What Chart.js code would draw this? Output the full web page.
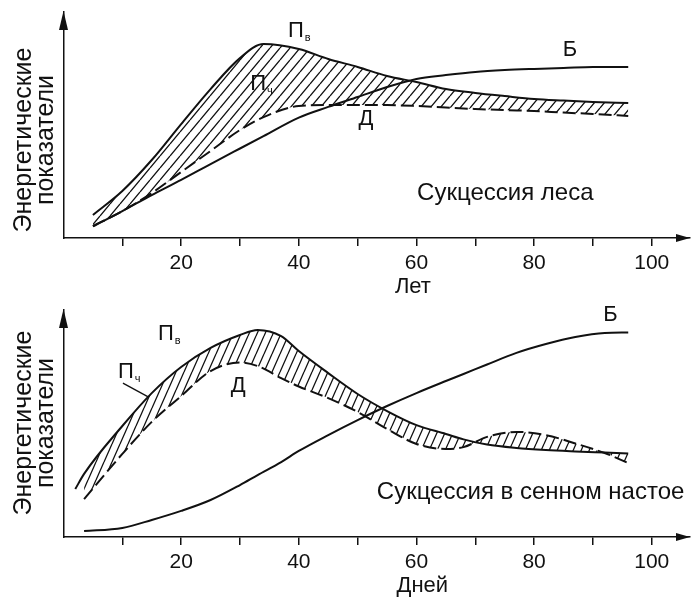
<!DOCTYPE html>
<html>
<head>
<meta charset="utf-8">
<script src="https://cdn.jsdelivr.net/npm/chart.js@4.4.1/dist/chart.umd.min.js"></script>
<style>
  html, body { margin: 0; padding: 0; background: #fff; }
  #wrap { position: relative; width: 691px; height: 601px; }
  canvas { position: absolute; left: 0; }
  #forest { top: 0; }
  #hay { top: 300px; }
</style>
</head>
<body>
<div id="wrap">
  <canvas id="forest" width="691" height="300"></canvas>
  <canvas id="hay" width="691" height="301"></canvas>
</div>
<script>
// ===================
// Data
// ===================

// forest succession, years
const forestYears   = [5, 10, 15, 20, 25, 30, 34, 40, 45, 50, 55, 60, 65, 70, 75, 80, 85, 90, 96];
const forestGross   = [10.2, 20.8, 34.5, 50.4, 65.9, 79.6, 85.8, 83.6, 79.2, 75.7, 71.7, 69.0, 65.9, 64.2, 62.8, 61.5, 60.8, 60.2, 59.7];
const forestResp    = [5.3, 11.9, 19.9, 29.2, 38.5, 47.8, 53.5, 58.4, 58.8, 58.8, 58.8, 58.4, 57.7, 57.1, 56.6, 56.2, 55.5, 54.9, 54.0];
const forestBiomass = [5.1, 11.9, 19.0, 25.7, 32.7, 39.6, 45.1, 53.3, 58.0, 62.4, 66.8, 70.4, 72.1, 73.5, 74.3, 74.8, 75.2, 75.7, 75.7];

// hay infusion succession, days
const hayDays    = [2, 3.5, 10, 15, 20, 25, 30, 33, 37, 40, 45, 50, 55, 60, 65, 68, 72, 77, 82, 87, 92, 96];
const hayGross   = [21.1, 27.8, 48.9, 63.4, 74.9, 83.3, 89.0, 91.2, 88.5, 81.9, 72.2, 63.0, 55.5, 49.3, 45.4, 43.0, 40.7, 39.2, 38.3, 37.7, 37.2, 36.8];
const hayResp    = [null, 16.7, 36.6, 50.7, 62.1, 73.1, 76.9, 75.3, 70.0, 66.3, 61.2, 55.1, 47.6, 41.0, 38.8, 39.6, 44.1, 46.3, 44.9, 41.2, 37.0, 32.6];
const hayBiomass = [null, 2.6, 4.0, 7.5, 11.5, 16.3, 22.9, 27.3, 33.0, 37.9, 44.9, 51.5, 57.7, 63.4, 68.7, 71.8, 76.0, 81.1, 85.0, 88.1, 89.9, 90.1];

const labeledTicks = [20, 40, 60, 80, 100];

const FONT = '"Liberation Sans", Arial, sans-serif';
const INK = '#111';

function points(xs, ys) {
	return xs.map((x, i) => ({ x: x, y: ys[i] }));
}

// diagonal hatching tile, one "/" line per tile
function hatch(ctx, w, h) {
	const c = document.createElement('canvas');
	c.width = w; c.height = h;
	const g = c.getContext('2d');
	g.strokeStyle = INK;
	g.lineWidth = 1.3;
	g.beginPath();
	for (const dx of [-w, 0, w]) {
		g.moveTo(dx, h);
		g.lineTo(dx + w, 0);
	}
	g.stroke();
	return ctx.createPattern(c, 'repeat');
}

function curveLabel(ctx, px, py, main, sub) {
	ctx.font = '22px ' + FONT;
	ctx.textAlign = 'center';
	ctx.textBaseline = 'middle';
	ctx.fillText(main, px, py);
	if (sub) {
		const w = ctx.measureText(main).width;
		ctx.font = '11px ' + FONT;
		ctx.textAlign = 'left';
		ctx.fillText(sub, px + w / 2 + 1, py + 7);
	}
}

// axis arrows, rotated axis title and curve names
const panelDecor = {
	id: 'panelDecor',
	afterDraw(chart, args, opts) {
		const { ctx, chartArea: a, scales: { x, y } } = chart;
		ctx.save();
		ctx.fillStyle = INK;
		ctx.strokeStyle = INK;

		ctx.beginPath();
		ctx.moveTo(a.left, a.top - 1);
		ctx.lineTo(a.left - 4.5, a.top + 18);
		ctx.lineTo(a.left + 4.5, a.top + 18);
		ctx.closePath();
		ctx.fill();

		ctx.beginPath();
		ctx.moveTo(a.right, a.bottom);
		ctx.lineTo(a.right - 14, a.bottom - 4);
		ctx.lineTo(a.right - 14, a.bottom + 4);
		ctx.closePath();
		ctx.fill();

		ctx.save();
		ctx.translate(24, opts.titleY);
		ctx.rotate(-Math.PI / 2);
		ctx.font = '25px ' + FONT;
		ctx.textAlign = 'center';
		ctx.textBaseline = 'middle';
		ctx.fillText('Энергетические', 0, 0);
		ctx.fillText('показатели', 0, 22);
		ctx.restore();

		ctx.font = '22px ' + FONT;
		ctx.textAlign = 'center';
		ctx.textBaseline = 'middle';
		ctx.fillText(opts.unit, x.getPixelForValue(opts.unitX), opts.unitY);

		for (const l of opts.labels) {
			curveLabel(ctx, x.getPixelForValue(l.x), y.getPixelForValue(l.y), l.text, l.sub);
		}

		ctx.font = '24px ' + FONT;
		ctx.textAlign = 'center';
		ctx.fillText(opts.caption.text, x.getPixelForValue(opts.caption.x), y.getPixelForValue(opts.caption.y));

		if (opts.leader) {
			const [p, q] = opts.leader;
			ctx.lineWidth = 1.3;
			ctx.beginPath();
			ctx.moveTo(x.getPixelForValue(p[0]), y.getPixelForValue(p[1]));
			ctx.lineTo(x.getPixelForValue(q[0]), y.getPixelForValue(q[1]));
			ctx.stroke();
		}
		ctx.restore();
	}
};

function makePanel(id, xs, gross, resp, biomass, padTop, axisHeight, pattern, decor) {
	const ctx = document.getElementById(id).getContext('2d');
	const line = { borderColor: INK, borderWidth: 2, pointRadius: 0, cubicInterpolationMode: 'monotone' };
	return new Chart(ctx, {
		type: 'line',
		data: {
			datasets: [
				Object.assign({ data: points(xs, gross), fill: 1, backgroundColor: pattern }, line),
				Object.assign({ data: points(xs, resp), fill: false, borderDash: [13, 5] }, line),
				Object.assign({ data: points(xs, biomass), fill: false }, line)
			]
		},
		options: {
			responsive: false,
			animation: false,
			events: [],
			layout: { padding: { top: padTop, right: 1, left: 0, bottom: 0 } },
			plugins: { legend: { display: false }, tooltip: { enabled: false }, panelDecor: decor },
			scales: {
				x: {
					type: 'linear',
					min: 0,
					max: 106.5,
					afterFit: s => { s.height = axisHeight; },
					afterBuildTicks: s => { s.ticks = s.ticks.filter(t => t.value > 0 && t.value <= 100); },
					grid: { display: true, drawOnChartArea: false, drawTicks: true, tickLength: 8, color: INK, lineWidth: 1.5 },
					border: { display: true, color: INK, width: 1.5 },
					ticks: {
						stepSize: 10,
						includeBounds: false,
						autoSkip: false,
						maxRotation: 0,
						padding: 5,
						color: INK,
						font: { family: FONT, size: 21 },
						callback: v => labeledTicks.includes(v) ? String(v) : ''
					}
				},
				y: {
					min: 0,
					max: 100,
					afterFit: s => { s.width = 63.5; },
					grid: { display: false },
					border: { display: true, color: INK, width: 1.5 },
					ticks: { display: false }
				}
			}
		},
		plugins: [panelDecor]
	});
}

// ===================
// Forest succession
// ===================

const forestCtx = document.getElementById('forest').getContext('2d');
makePanel('forest', forestYears, forestGross, forestResp, forestBiomass, 12, 62, hatch(forestCtx, 10, 12), {
	titleY: 140,
	unit: 'Лет', unitX: 59.4, unitY: 287,
	caption: { text: 'Сукцессия леса', x: 75.1, y: 19.9 },
	labels: [
		{ text: 'П', sub: 'в', x: 39.5, y: 91.6 },
		{ text: 'П', sub: 'ч', x: 33.1, y: 68.1 },
		{ text: 'Д', x: 51.4, y: 52.7 },
		{ text: 'Б', x: 86.1, y: 83.2 }
	]
});

// ===================
// Hay infusion succession
// ===================

const hayCtx = document.getElementById('hay').getContext('2d');
makePanel('hay', hayDays, hayGross, hayResp, hayBiomass, 10, 64, hatch(hayCtx, 8, 18), {
	titleY: 123,
	unit: 'Дней', unitX: 61.0, unitY: 286,
	caption: { text: 'Сукцессия в сенном настое', x: 79.4, y: 19.8 },
	labels: [
		{ text: 'П', sub: 'в', x: 17.4, y: 89.4 },
		{ text: 'П', sub: 'ч', x: 10.6, y: 72.7 },
		{ text: 'Д', x: 29.7, y: 66.5 },
		{ text: 'Б', x: 93.0, y: 97.8 }
	],
	leader: [[10.1, 67.8], [14.4, 61.7]]
});
</script>
</body>
</html>
